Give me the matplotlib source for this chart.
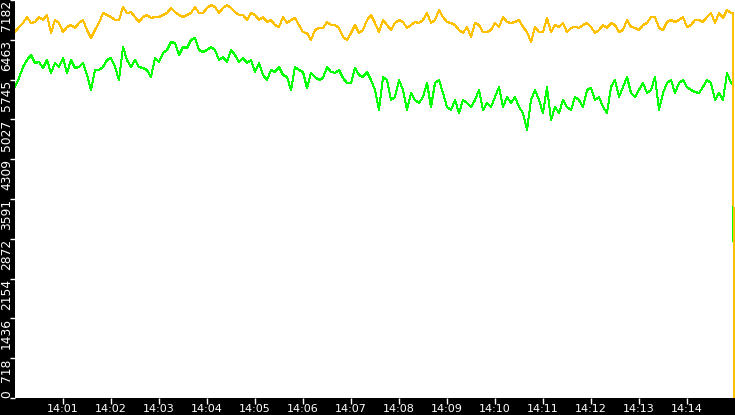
import numpy as np
import matplotlib
matplotlib.use('Agg')
import matplotlib.pyplot as plt

# ================= data =================
# samples every 5 s from 14:00:00, last sample then a drop to zero
SAMPLE_STEP = 5
END_TIMES = [897.5, 898.75]

yellow_vals = [
    6604, 6695, 6767, 6875, 6767, 6785, 6875, 6821, 6911, 6586, 6821, 6767, 6604, 6695, 6731,
    6677, 6767, 6821, 6641, 6496, 6641, 6767, 6947, 6911, 6875, 6821, 6821, 7056, 6947, 6965,
    6875, 6785, 6875, 6911, 6857, 6875, 6875, 6911, 6947, 7038, 6965, 6911, 6875, 6911, 6947,
    7056, 6947, 6947, 7038, 7092, 7056, 6947, 7038, 7092, 7038, 6965, 6911, 6911, 6821, 6947,
    6911, 6821, 6875, 6785, 6821, 6731, 6695, 6875, 6767, 6821, 6857, 6731, 6604, 6586, 6460,
    6641, 6677, 6677, 6785, 6731, 6731, 6677, 6514, 6460, 6586, 6731, 6586, 6641, 6821, 6911,
    6767, 6604, 6821, 6731, 6641, 6767, 6821, 6785, 6677, 6731, 6785, 6767, 6821, 6947, 6767,
    6821, 7001, 6875, 6785, 6767, 6731, 6641, 6586, 6695, 6514, 6767, 6731, 6604, 6604, 6641,
    6767, 6695, 6875, 6785, 6767, 6785, 6821, 6695, 6604, 6424, 6695, 6604, 6604, 6857, 6604,
    6731, 6695, 6767, 6604, 6677, 6695, 6677, 6731, 6767, 6695, 6586, 6641, 6731, 6677, 6767,
    6731, 6604, 6641, 6821, 6695, 6677, 6641, 6731, 6767, 6875, 6875, 6677, 6641, 6785, 6821,
    6785, 6821, 6875, 6695, 6731, 6821, 6821, 6785, 6875, 6947, 6767, 6947, 6857, 7001, 6947,
]
yellow_end = [6947, 0]

green_vals = [
    5612, 5774, 5973, 6099, 6189, 6045, 6063, 5955, 6099, 5865, 6045, 5973, 6135, 5865, 6099,
    5955, 5973, 6045, 5829, 5558, 5919, 5919, 5973, 6099, 6135, 5973, 5738, 6334, 6099, 5973,
    6099, 5973, 5955, 5919, 5792, 6135, 6063, 6226, 6280, 6424, 6406, 6189, 6334, 6316, 6460,
    6496, 6280, 6244, 6280, 6334, 6280, 6099, 6153, 6063, 6280, 6189, 6063, 6135, 6045, 6099,
    5883, 6045, 5829, 5738, 5919, 5883, 5973, 5829, 5792, 5558, 5973, 5919, 5883, 5594, 5865,
    5792, 5738, 5774, 5973, 5883, 5865, 5919, 5774, 5684, 5684, 5955, 5829, 5792, 5883, 5738,
    5558, 5197, 5792, 5738, 5377, 5432, 5738, 5558, 5197, 5504, 5377, 5323, 5432, 5684, 5251,
    5684, 5738, 5504, 5251, 5197, 5377, 5143, 5377, 5323, 5251, 5377, 5558, 5197, 5323, 5251,
    5432, 5612, 5251, 5432, 5323, 5432, 5251, 5143, 4836, 5377, 5558, 5377, 5143, 5612, 5017,
    5251, 5143, 5377, 5251, 5197, 5432, 5377, 5251, 5558, 5594, 5377, 5432, 5251, 5143, 5612,
    5738, 5432, 5612, 5792, 5504, 5432, 5558, 5684, 5504, 5558, 5792, 5197, 5504, 5684, 5738,
    5504, 5684, 5738, 5612, 5558, 5522, 5504, 5612, 5738, 5684, 5377, 5504, 5377, 5865, 5684,
]
green_end = [5648, 0]

Y_MAX = 7182
y_tick_labels = ['0', '718', '1436', '2154', '2872', '3591', '4309', '5027', '5745', '6463', '7182']
x_tick_labels = ['14:%02d' % m for m in range(1, 15)]

# ================= plot =================
t = list(np.arange(len(yellow_vals)) * SAMPLE_STEP) + END_TIMES

fig = plt.figure(figsize=(7.35, 4.15), dpi=100, facecolor='black')
ax = fig.add_axes([15 / 735, 17 / 415, 720 / 735, 398 / 415])
ax.set_facecolor('white')

ax.plot(t, green_vals + green_end, color='#00FF00', lw=0.72, antialiased=False)
ax.plot(t, yellow_vals + yellow_end, color='#FFC000', lw=0.72, antialiased=False)

ax.set_xlim(0, 900)
ax.set_ylim(0, Y_MAX)

ax.set_yticks(np.linspace(0, Y_MAX, len(y_tick_labels)))
ax.set_yticklabels(y_tick_labels, rotation=90, va='top', ha='right')
ax.set_xticks(np.arange(1, 15) * 60)
ax.set_xticklabels(x_tick_labels)

ax.tick_params(axis='both', colors='white', width=1)
ax.tick_params(axis='y', length=3.6, pad=-2.2, labelsize=8.8)
ax.tick_params(axis='x', length=4.5, pad=0, labelsize=8)

# keep the "0" label inside the figure like the reference
ax.get_yticklabels()[0].set_va('bottom')

for s in ax.spines.values():
    s.set_visible(False)

fig.savefig('out.png', dpi=100, facecolor='black')
